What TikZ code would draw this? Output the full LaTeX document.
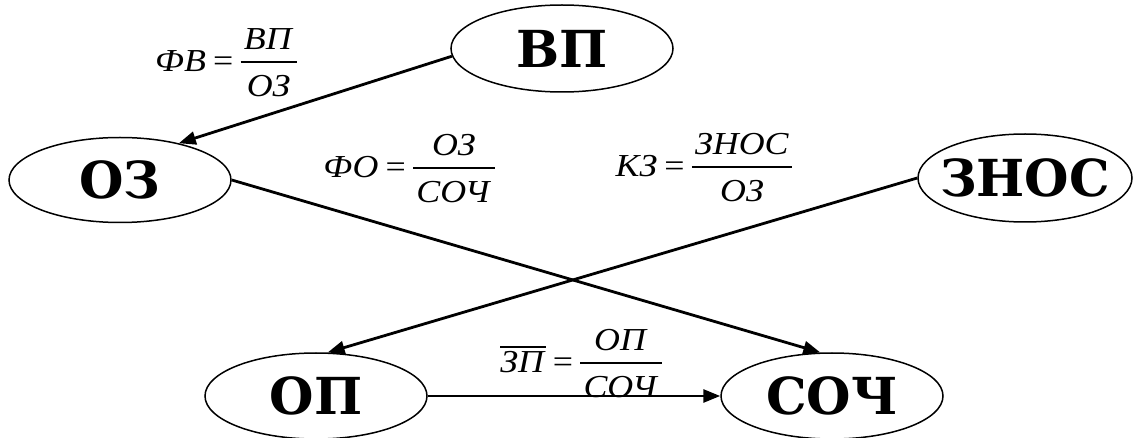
\documentclass[tikz,border=0pt]{standalone}
\usepackage{fontspec}
\setmainfont{Liberation Serif}
\newfontfamily\boxfont{DejaVu Serif}
\usetikzlibrary{arrows.meta,shapes.geometric}

% fraction "left = num / den" in italic Times-like text, set a little wide
\newcommand\ratiofrac[3]{\scalebox{1.12}[1]{%
  #1\hspace{0.2em}=\hspace{0.2em}%
  $\vcenter{\hbox{\setlength\arrayrulewidth{1.4pt}%
    \begin{tabular}{@{\hspace{3pt}}c@{\hspace{3pt}}}%
      \textit{#2}\\[0pt]\hline
      \rule{0pt}{34pt}\textit{#3}%
    \end{tabular}}}$}}
% italic text with a bar over it
\newcommand\barred[1]{\leavevmode\vbox{\hrule height 1.3pt\kern 4pt\hbox{\textit{#1}}}}
% stage label that does not widen its ellipse
\newcommand\stagelabel[1]{\makebox[0pt]{#1}}

\tikzset{
  stage/.style={ellipse, draw, line width=1.5pt, inner sep=0pt,
    minimum width=222pt, minimum height=86pt,
    font=\boxfont\bfseries\fontsize{51}{51}\selectfont},
  link/.style={line width=2.8pt, -{Triangle[length=17pt,width=13pt]}},
  formula/.style={inner sep=0pt, font=\fontsize{32}{38}\selectfont}
}

\begin{document}
\begin{tikzpicture}[x=1pt,y=-1pt]
  \useasboundingbox (0,0) rectangle (1133,438);

  % stages
  \node[stage, minimum height=87pt] (vp)   at (562,48.5) {\stagelabel{ВП}};
  \node[stage, minimum height=85pt] (oz)   at (120,180)  {\stagelabel{ОЗ}};
  \node[stage, minimum width=214pt, minimum height=88pt] (znos) at (1025,178) {\stagelabel{ЗНОС}};
  \node[stage] (op)   at (316,396)  {\stagelabel{ОП}};
  \node[stage] (soch) at (832,396)  {\stagelabel{СОЧ}};

  % ratios
  \node[formula] (fv) at (226,65.7)  {\ratiofrac{\textit{ФВ}}{ВП}{ОЗ}};
  \node[formula] (fo) at (409,171.7) {\ratiofrac{\textit{ФО}}{ОЗ}{СОЧ}};
  \node[formula] (kz) at (704,170.7) {\ratiofrac{\textit{КЗ}}{ЗНОС}{ОЗ}};
  \node[formula] (zp) at (581,366.7) {\ratiofrac{\barred{ЗП}}{ОП}{СОЧ}};

  % links
  \draw[link] (vp.184)   -- (oz.32);
  \draw[link] (oz.east)  -- (soch.105);
  \draw[link] (znos.west) -- (op.75);
  \draw[link] (op.east)  -- (soch.west);
\end{tikzpicture}
\end{document}
